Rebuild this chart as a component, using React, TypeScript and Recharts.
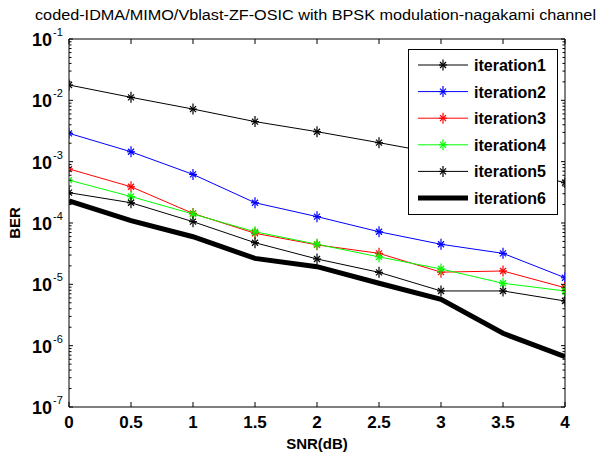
import React from 'react';
import { LineChart, Line, XAxis, YAxis, Legend } from 'recharts';

const snr = [0, 0.5, 1, 1.5, 2, 2.5, 3, 3.5, 4];
const xTickLabels = ['0', '0.5', '1', '1.5', '2', '2.5', '3', '3.5', '4'];
const iteration1 = [1.78e-2, 1.12e-2, 7.2e-3, 4.5e-3, 3.08e-3, 2.04e-3, 1.33e-3, 8.0e-4, 4.54e-4];
const iteration2 = [2.9e-3, 1.45e-3, 6.2e-4, 2.14e-4, 1.27e-4, 7.2e-5, 4.5e-5, 3.2e-5, 1.28e-5];
const iteration3 = [7.6e-4, 3.9e-4, 1.43e-4, 6.8e-5, 4.4e-5, 3.2e-5, 1.58e-5, 1.65e-5, 8.8e-6];
const iteration4 = [5.0e-4, 2.7e-4, 1.4e-4, 7.2e-5, 4.5e-5, 2.8e-5, 1.78e-5, 1.04e-5, 7.8e-6];
const iteration5 = [3.12e-4, 2.14e-4, 1.05e-4, 4.77e-5, 2.59e-5, 1.57e-5, 7.8e-6, 7.8e-6, 5.35e-6];
const iteration6 = [2.29e-4, 1.09e-4, 5.97e-5, 2.65e-5, 1.94e-5, 1.04e-5, 5.7e-6, 1.59e-6, 6.6e-7];

const seriesNames = ['iteration1', 'iteration2', 'iteration3', 'iteration4', 'iteration5', 'iteration6'];
const seriesColors = ['#000000', '#0000ff', '#ff0000', '#00ff00', '#000000', '#000000'];
const seriesValues = [iteration1, iteration2, iteration3, iteration4, iteration5, iteration6];
const seriesWidths = [1, 1, 1, 1, 1, 5];
const seriesMarkers = [true, true, true, true, true, false];

const yExponents = [-7, -6, -5, -4, -3, -2, -1];
const yMajorTicks = yExponents.map((e) => Math.pow(10, e));
const yMinorTicks: number[] = [];
yExponents.slice(0, -1).forEach((e) => {
  for (let m = 2; m <= 9; m++) yMinorTicks.push(m * Math.pow(10, e));
});
const yAllTicks = [...yMajorTicks, ...yMinorTicks].sort((a, b) => a - b);

const titleText = 'coded-IDMA/MIMO/Vblast-ZF-OSIC with BPSK modulation-nagakami channel';
const xLabelText = 'SNR(dB)';
const yLabelText = 'BER';

const data = snr.map((s, i) => {
  const row: any = { snr: s };
  seriesNames.forEach((n, k) => {
    row[n] = seriesValues[k][i];
  });
  return row;
});

const FONT = "'Liberation Sans Narrow','Liberation Sans',Arial,sans-serif";
const WIDE = "'Liberation Sans',Arial,sans-serif";

const PLOT_LEFT = 69;
const PLOT_RIGHT = 565;
const PLOT_TOP = 39;
const PLOT_BOTTOM = 407;

const isMajor = (v: number) => {
  const l = Math.log10(v);
  return Math.abs(l - Math.round(l)) < 1e-6;
};

const Star = ({ cx, cy, color }: { cx: number; cy: number; color: string }) => (
  <g stroke={color} strokeWidth={1.2}>
    <line x1={cx - 4} y1={cy} x2={cx + 4} y2={cy} />
    <line x1={cx} y1={cy - 5.5} x2={cx} y2={cy + 5.5} />
    <line x1={cx - 3} y1={cy - 3} x2={cx + 3} y2={cy + 3} />
    <line x1={cx - 3} y1={cy + 3} x2={cx + 3} y2={cy - 3} />
  </g>
);

const YTickLeft = (props: any) => {
  const { y, payload } = props;
  const major = isMajor(payload.value);
  const len = major ? 4 : 2.5;
  const tickLine = <line x1={PLOT_LEFT} y1={y} x2={PLOT_LEFT + len} y2={y} stroke="#000" strokeWidth={1} />;
  if (!major) return <g>{tickLine}</g>;
  const e = Math.round(Math.log10(payload.value));
  return (
    <g>
      {tickLine}
      <text x={52} y={y + 7} textAnchor="end" fontFamily={FONT} fontWeight="bold" fontSize={18} fill="#000">
        10
      </text>
      <text x={53} y={y - 3} textAnchor="start" fontFamily={FONT} fontSize={11} fill="#000">
        {String(e)}
      </text>
    </g>
  );
};

const YTickRight = (props: any) => {
  const { y, payload } = props;
  const len = isMajor(payload.value) ? 4 : 2.5;
  return <line x1={PLOT_RIGHT} y1={y} x2={PLOT_RIGHT - len} y2={y} stroke="#000" strokeWidth={1} />;
};

const XTickBottom = (props: any) => {
  const { x, payload } = props;
  const idx = snr.indexOf(payload.value);
  return (
    <g>
      <line x1={x} y1={PLOT_BOTTOM} x2={x} y2={PLOT_BOTTOM - 5} stroke="#000" strokeWidth={1} />
      <text x={x} y={428} textAnchor="middle" fontFamily={FONT} fontWeight="bold" fontSize={17} fill="#000">
        {xTickLabels[idx]}
      </text>
    </g>
  );
};

const XTickTop = (props: any) => {
  const { x } = props;
  return <line x1={x} y1={PLOT_TOP} x2={x} y2={PLOT_TOP + 5} stroke="#000" strokeWidth={1} />;
};

const LegendBox = () => (
  <svg width={150} height={166} style={{ display: 'block' }}>
    <rect x={0.5} y={0.5} width={149} height={165} fill="#fff" stroke="#000" strokeWidth={1} />
    {seriesNames.map((n, i) => {
      const cy = 16 + i * 26.6;
      return (
        <g key={n}>
          <line x1={10} y1={cy} x2={60} y2={cy} stroke={seriesColors[i]} strokeWidth={seriesWidths[i]} />
          {seriesMarkers[i] && <Star cx={35} cy={cy} color={seriesColors[i]} />}
          <text x={66} y={cy + 6} fontFamily={WIDE} fontWeight="bold" fontSize={16} fill="#000">
            {n}
          </text>
        </g>
      );
    })}
  </svg>
);

export default function App() {
  return (
    <div style={{ position: 'absolute', left: 0, top: 0, width: 598, height: 457, background: '#fff' }}>
      <LineChart width={598} height={457} data={data} margin={{ top: 0, right: 0, bottom: 0, left: 0 }}>
        <XAxis
          xAxisId="x"
          dataKey="snr"
          type="number"
          domain={[0, 4]}
          ticks={snr}
          interval={0}
          height={50}
          tickLine={false}
          axisLine={{ stroke: '#000', strokeWidth: 1 }}
          tick={<XTickBottom />}
          allowDataOverflow
        />
        <XAxis
          xAxisId="xt"
          orientation="top"
          dataKey="snr"
          type="number"
          domain={[0, 4]}
          ticks={snr}
          interval={0}
          height={39}
          tickLine={false}
          axisLine={{ stroke: '#000', strokeWidth: 1 }}
          tick={<XTickTop />}
          allowDataOverflow
        />
        <YAxis
          yAxisId="y"
          type="number"
          scale="log"
          domain={[1e-7, 1e-1]}
          ticks={yAllTicks}
          interval={0}
          width={69}
          tickLine={false}
          axisLine={{ stroke: '#000', strokeWidth: 1 }}
          tick={<YTickLeft />}
          allowDataOverflow
        />
        <YAxis
          yAxisId="yr"
          orientation="right"
          type="number"
          scale="log"
          domain={[1e-7, 1e-1]}
          ticks={yAllTicks}
          interval={0}
          width={33}
          tickLine={false}
          axisLine={{ stroke: '#000', strokeWidth: 1 }}
          tick={<YTickRight />}
          allowDataOverflow
        />
        {seriesNames.map((n, i) => (
          <Line
            key={n}
            xAxisId="x"
            yAxisId="y"
            dataKey={n}
            type="linear"
            stroke={seriesColors[i]}
            strokeWidth={seriesWidths[i]}
            isAnimationActive={false}
            dot={
              seriesMarkers[i]
                ? (p: any) => <Star key={`${n}-${p.index}`} cx={p.cx} cy={p.cy} color={seriesColors[i]} />
                : false
            }
            activeDot={false}
          />
        ))}
        <Legend
          layout="vertical"
          align="center"
          verticalAlign="middle"
          content={() => <LegendBox />}
          wrapperStyle={{ position: 'absolute', left: 408, top: 49, width: 150, height: 166 }}
        />
      </LineChart>
      <svg
        width={598}
        height={457}
        style={{ position: 'absolute', left: 0, top: 0, pointerEvents: 'none' }}
      >
        <text x={35} y={20} fontFamily={WIDE} fontSize={14} textLength={561} lengthAdjust="spacingAndGlyphs" fill="#000">
          {titleText}
        </text>
        <text x={317} y={449} textAnchor="middle" fontFamily={WIDE} fontWeight="bold" fontSize={15} fill="#000">
          {xLabelText}
        </text>
        <text
          x={0}
          y={0}
          transform="translate(20,223) rotate(-90)"
          textAnchor="middle"
          fontFamily={WIDE}
          fontWeight="bold"
          fontSize={15}
          fill="#000"
        >
          {yLabelText}
        </text>
      </svg>
    </div>
  );
}
